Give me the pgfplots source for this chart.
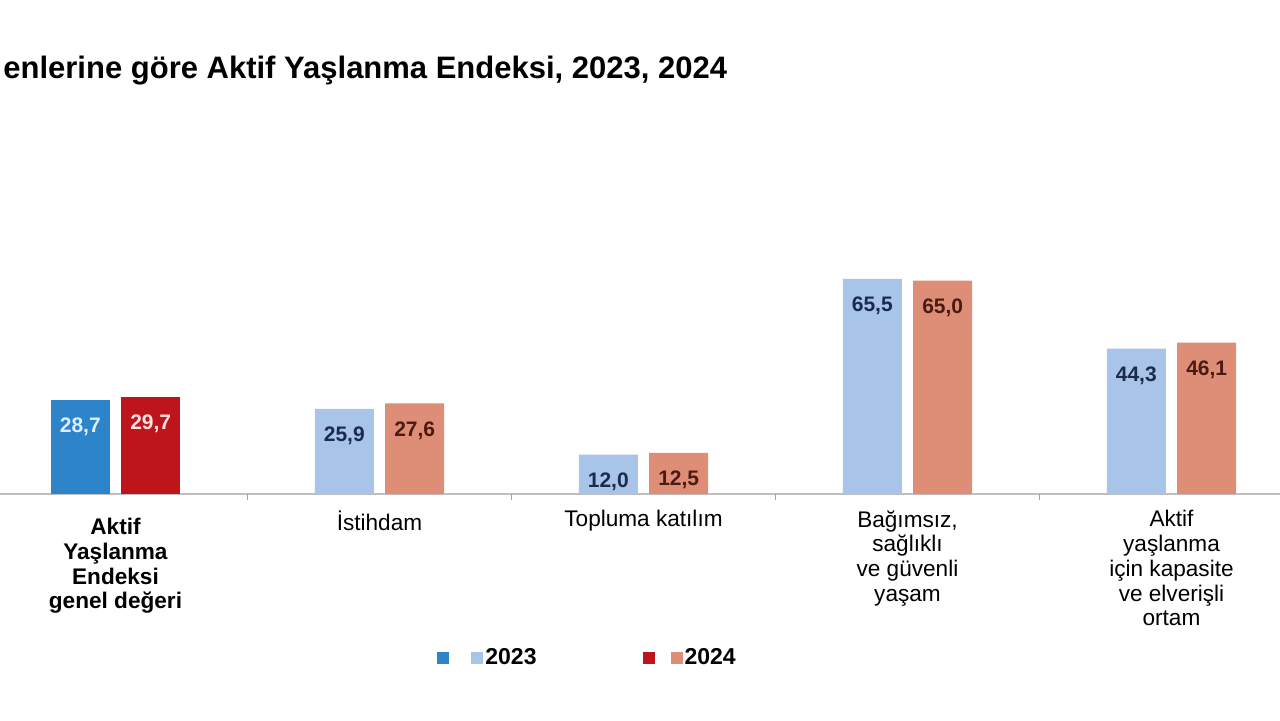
\documentclass[border=0pt]{standalone}
\usepackage{fontspec}
\setmainfont{Liberation Sans}
\usepackage{pgfplots}
\pgfplotsset{compat=1.18}

\definecolor{blueA}{RGB}{46,132,200}
\definecolor{redA}{RGB}{190,20,28}
\definecolor{blueL}{RGB}{168,196,232}
\definecolor{salmonL}{RGB}{222,142,118}
\definecolor{txtBlue}{RGB}{27,43,75}
\definecolor{txtRed}{RGB}{75,26,18}

\pgfplotsset{
  mybar/.style={ybar, bar width=29.5pt, draw=none,
    legend image code/.code={\fill[##1,/tikz/.cd] (0pt,-3pt) rectangle (6pt,3pt);}},
}

\begin{document}
\begin{tikzpicture}[x=1pt,y=1pt]
\useasboundingbox (0,0) rectangle (640,360);
\node[anchor=base west, inner sep=0pt, font=\bfseries\fontsize{15.5}{18}\selectfont]
  at (1.5,321) {enlerine göre Aktif Yaşlanma Endeksi, 2023, 2024};
\begin{axis}[
  at={(0pt,113pt)}, anchor=south west,
  scale only axis, width=640pt, height=114.9pt,
  xmin=-0.4375, xmax=4.411, ymin=0, ymax=70,
  axis x line*=bottom, axis y line=none,
  axis line style={draw=black!25, line width=1pt},
  xtick={0,1,2,3,4}, major tick length=0pt,
  xticklabels={
    {\rule{0pt}{12pt}\textbf{Aktif}\\\textbf{Yaşlanma}\\\textbf{Endeksi}\\\textbf{genel değeri}},
    {İstihdam},
    {Topluma katılım},
    {Bağımsız,\\sağlıklı\\ve güvenli\\yaşam},
    {Aktif\\yaşlanma\\için kapasite\\ve elverişli\\ortam}},
  xticklabel style={align=center, anchor=north, inner sep=0pt, yshift=-8pt,
    font=\fontsize{11.3}{12.4}\selectfont},
  extra x ticks={0.5,1.5,2.5,3.5},
  extra x tick labels={{},{},{},{}},
  extra x tick style={major tick length=3pt, tick align=outside,
    tick style={draw=black!35, line width=0.6pt}},
  clip=false,
  /pgf/number format/assume math mode=true,
  nodes near coords={\pgfmathprintnumber[fixed,fixed zerofill,precision=1,use comma]{\pgfplotspointmeta}},
  every node near coord/.append style={anchor=center, yshift=-13.5pt,
    font=\bfseries\fontsize{10.5}{12}\selectfont},
  legend columns=4,
  legend style={at={(rel axis cs:0.3414,-0.7137)}, anchor=west, draw=none, fill=none,
    inner sep=0pt, nodes={inner xsep=1pt, inner ysep=0pt},
    font=\bfseries\fontsize{11.5}{13}\selectfont,
    /tikz/column 2/.style={column sep=9pt},
    /tikz/column 4/.style={column sep=52pt},
    /tikz/column 6/.style={column sep=6pt}},
]
\addplot[mybar, bar shift=-17.6pt, fill=blueA,
  nodes near coords style={xshift=-17.6pt, text={rgb,255:red,221;green,238;blue,255}}]
  coordinates {(0,28.7)};
\addlegendentry{\mbox{}}
\addplot[mybar, bar shift=-17.6pt, fill=blueL,
  nodes near coords style={xshift=-17.6pt, text=txtBlue}]
  coordinates {(1,25.9)(2,12.0)(3,65.5)(4,44.3)};
\addlegendentry{2023}
\addplot[mybar, bar shift=17.6pt, fill=redA,
  nodes near coords style={xshift=17.6pt, text={rgb,255:red,255;green,226;blue,226}}]
  coordinates {(0,29.7)};
\addlegendentry{\mbox{}}
\addplot[mybar, bar shift=17.6pt, fill=salmonL,
  nodes near coords style={xshift=17.6pt, text=txtRed}]
  coordinates {(1,27.6)(2,12.5)(3,65.0)(4,46.1)};
\addlegendentry{2024}
\end{axis}
\end{tikzpicture}
\end{document}
